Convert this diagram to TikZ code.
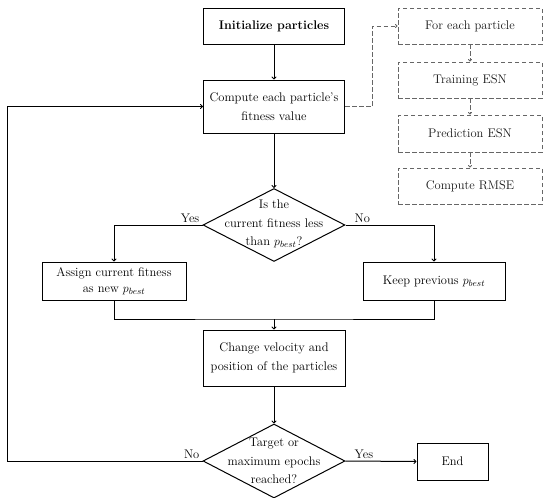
\documentclass[tikz,border=0pt]{standalone}
\usetikzlibrary{shapes.geometric,arrows.meta,calc}
\begin{document}
\begin{tikzpicture}[x=1pt,y=1pt,
  every node/.style={font=\fontsize{12.5}{18.5}\selectfont},
  box/.style={draw,line width=1pt,inner sep=2pt,align=center,minimum width=141pt},
  dbox/.style={draw=black!60,dash pattern=on 4.5pt off 2.5pt,line width=0.9pt,align=center,minimum width=144pt,minimum height=36pt,text=black!90},
  dia/.style={draw,line width=1pt,shape=diamond,inner sep=0pt,minimum width=142pt,minimum height=73pt},
  conn/.style={line width=1pt,-{To[length=3pt,width=5pt]}},
  plain/.style={line width=1pt},
  dconn/.style={draw=black!60,dash pattern=on 4.5pt off 2.5pt,line width=0.9pt,-{To[length=2.5pt,width=4pt]}},
  lbl/.style={inner sep=1pt}
]
\useasboundingbox (0,0) rectangle (550,-498);

\node[box,minimum height=36pt,font=\fontsize{12.5}{18.5}\selectfont\bfseries] (init) at (274,-26) {Initialize particles};
\node[box,minimum height=53pt] (comp) at (274,-106.5) {Compute each particle's\\fitness value};

\node[dbox] (fe) at (470,-26) {For each particle};
\node[dbox] (tr) at (470,-80) {Training ESN};
\node[dbox,minimum height=37pt] (pr) at (470,-133.5) {Prediction ESN};
\node[dbox] (rm) at (470,-186) {Compute RMSE};

\node[dia] (d1) at (274,-225) {};
\node[align=center,inner sep=0pt] (d1t) at (274,-224) {Is the\\current fitness less\\than $p_{best}$?};

\node[box,minimum width=144pt,minimum height=38pt] (assign) at (114,-281) {Assign current fitness\\[-3pt]as new $p_{best}$};
\node[box,minimum width=142pt,minimum height=38pt] (keep) at (434,-281) {Keep previous $p_{best}$};

\node[box,minimum width=142pt,minimum height=56pt] (change) at (274,-358) {Change velocity and\\position of the particles};

\node[dia,minimum height=74pt] (d2) at (274,-461) {};
\node[align=center,inner sep=0pt] (d2t) at (274,-461) {Target or\\maximum epochs\\reached?};

\node[box,minimum width=71pt,minimum height=37pt] (end) at (452.5,-461.5) {End};

\coordinate (dj) at (372,-106.5);
\coordinate (mrg) at (274,-319);
\coordinate (lp) at (7,-461);

\draw[conn] (init) -- (comp);
\draw[dconn] (comp.east) -- (dj) |- (fe.west);
\draw[dconn] (fe) -- (tr);
\draw[dconn] (tr) -- (pr);
\draw[dconn] (pr) -- (rm);
\draw[conn] (comp) -- (d1.north);
\draw[conn] (d1.west) -| (assign.north);
\draw[conn] (d1.east) -| (keep.north);
\node[lbl,anchor=south east] (yes1) at ($(d1.west)+(-2,1)$) {Yes};
\node[lbl,anchor=south west] (no1) at ($(d1.east)+(8,1)$) {No};
\draw[plain] (assign.south) |- (mrg) -| (keep.south);
\draw[conn] (mrg) -- (change.north);
\draw[conn] (change) -- (d2.north);
\draw[conn] (d2.east) -- (end.west);
\node[lbl,anchor=south west] (yes2) at ($(d2.east)+(8,1)$) {Yes};
\node[lbl,anchor=south east] (no2) at ($(d2.west)+(-2,1)$) {No};
\draw[conn] (d2.west) -- (lp) |- (comp.west);
\end{tikzpicture}
\end{document}
